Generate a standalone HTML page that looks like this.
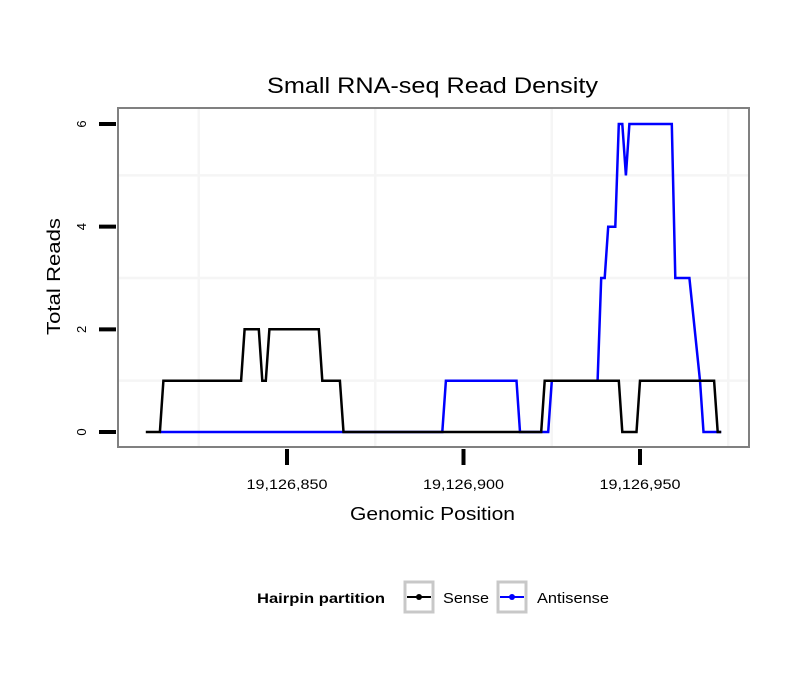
<!DOCTYPE html>
<html><head><meta charset="utf-8"><style>
html,body{margin:0;padding:0;background:#fff;}
svg{display:block;font-family:"Liberation Sans",sans-serif;}
</style></head><body>
<svg id="chart" width="810" height="690" viewBox="0 0 810 690">
<text x="267" y="93" font-size="22" textLength="331" lengthAdjust="spacingAndGlyphs">Small RNA-seq Read Density</text>
<rect x="118" y="108" width="631" height="339" fill="#fff" stroke="#808080" stroke-width="2"/>
<g id="grid"></g>
<g id="series"></g>
<g id="axes"></g>
<text x="350" y="520" font-size="18" textLength="165" lengthAdjust="spacingAndGlyphs">Genomic Position</text>
<text transform="translate(60,335) rotate(-90)" font-size="18" textLength="117" lengthAdjust="spacingAndGlyphs">Total Reads</text>
<g>
<text x="257" y="603" font-size="14" font-weight="bold" textLength="128" lengthAdjust="spacingAndGlyphs">Hairpin partition</text>
<g>
<rect x="405" y="582" width="28" height="30" fill="#fff" stroke="#c8c8c8" stroke-width="3"/>
<line x1="407" y1="597" x2="431" y2="597" stroke="#000" stroke-width="2"/>
<circle cx="419" cy="597" r="3" fill="#000"/>
<text x="443" y="603" font-size="15" textLength="46" lengthAdjust="spacingAndGlyphs">Sense</text>
</g>
<g>
<rect x="498" y="582" width="28" height="30" fill="#fff" stroke="#c8c8c8" stroke-width="3"/>
<line x1="500" y1="597" x2="524" y2="597" stroke="#00f" stroke-width="2"/>
<circle cx="512" cy="597" r="3" fill="#00f"/>
<text x="537" y="603" font-size="15" textLength="72" lengthAdjust="spacingAndGlyphs">Antisense</text>
</g>
</g>
</svg>
<script>
const senseOffsets = [810,814,815,837,838,842,843,844,845,859,860,865,866,922,923,944,945,949,950,971,972,973];
const senseValues  = [0,0,1,1,2,2,1,1,2,2,1,1,0,0,1,1,0,0,1,1,0,0];
const antiOffsets = [814,894,895,915,916,924,925,938,939,940,941,943,944,945,946,947,959,960,964,967,968,973];
const antiValues  = [0,0,1,1,0,0,1,1,3,3,4,4,6,6,5,6,6,3,3,1,0,0];
const xTickOffsets = [850,900,950];
const xTickLabels = ["19,126,850","19,126,900","19,126,950"];
const yTicks = [0,2,4,6];
const xMinor = [825,875,925,975];
const yMinor = [1,3,5];

const NS="http://www.w3.org/2000/svg";
function xs(o){return 287+(o-850)*3.53;}
function ys(v){return 432-v*51.33;}
function mk(tag,attrs,parent){const e=document.createElementNS(NS,tag);for(const k in attrs)e.setAttribute(k,attrs[k]);parent.appendChild(e);return e;}
const grid=document.getElementById('grid'),series=document.getElementById('series'),axes=document.getElementById('axes');
xMinor.forEach(o=>{const x=xs(o);if(x>119&&x<748){const l=mk('line',{x1:x,x2:x,y1:109,y2:446,stroke:'#f5f5f5','stroke-width':2.5},grid);

}});
yMinor.forEach(v=>{const y=ys(v);const l=mk('line',{x1:119,x2:748,y1:y,y2:y,stroke:'#f5f5f5','stroke-width':2.5},grid);

});
function path(offs,vals,color,name){
  const d=offs.map((o,i)=>(i?'L':'M')+xs(o).toFixed(1)+','+ys(vals[i]).toFixed(1)).join(' ');
  const p=mk('path',{d:d,fill:'none',stroke:color,'stroke-width':2.5,'stroke-linejoin':'miter'},series);
  
  
}
path(antiOffsets,antiValues,'#0000ff','antisense-line');
path(senseOffsets,senseValues,'#000000','sense-line');
yTicks.forEach(v=>{const y=ys(v);
  const t=mk('line',{x1:99,x2:116,y1:y,y2:y,stroke:'#000','stroke-width':4},axes);
  
  
  const tx=mk('text',{transform:'translate(86,'+y+') rotate(-90)','font-size':13,'text-anchor':'middle'},axes);
  tx.textContent=String(v);
  
  
});
xTickOffsets.forEach((o,i)=>{const x=xs(o);
  const t=mk('line',{x1:x,x2:x,y1:449,y2:465,stroke:'#000','stroke-width':4},axes);
  
  
  const tx=mk('text',{x:x-40.5,y:489,'font-size':14,textLength:81,lengthAdjust:'spacingAndGlyphs'},axes);
  tx.textContent=xTickLabels[i];
  
  
});
</script>
</body></html>
